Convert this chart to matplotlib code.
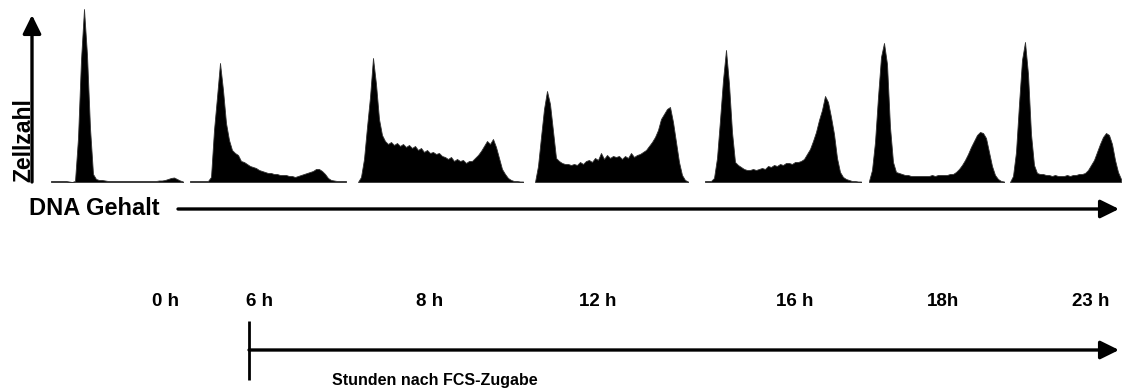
import numpy as np
import matplotlib.pyplot as plt

# DNA-Histogramme (Zellzahl je Kanal)
zeiten = ['0 h', '6 h', '8 h', '12 h', '16 h', '18h', '23 h']

hist_0h = [1, 1, 1, 1, 1, 1, 0.5, 0, 1, 44, 122, 173, 127, 54, 8, 3, 2, 2, 1.5, 1,
           1, 1, 1, 1, 1, 1, 1, 1, 1, 1, 1, 1, 1, 1, 1, 1, 1.5, 1.5, 2, 3,
           4, 4.5, 3, 1.5, 0.5]
hist_6h = [1, 1, 1, 1, 1, 1, 1, 5, 52, 85, 119, 92, 59, 42, 32, 29, 27, 21, 20, 18,
           16, 15, 14, 12, 11, 10, 9, 9, 8, 8, 7, 7, 7, 6, 6, 5, 6, 7, 8, 9,
           10, 11, 13, 13, 11, 8, 4, 2, 1.5, 1, 1, 1, 1]
hist_8h = [0, 5, 23, 55, 85, 124, 98, 63, 47, 41, 38, 40, 37, 39, 36, 38, 35, 37, 34, 36,
           32, 34, 30, 32, 29, 30, 28, 29, 26, 25, 23, 25, 21, 23, 21, 22, 19, 21, 21, 24,
           27, 31, 36, 41, 38, 43, 35, 24, 13, 8, 4, 2, 1, 1, 0.5, 0.5]
hist_12h = [0, 16, 45, 73, 91, 78, 51, 24, 21, 19, 18, 18, 17, 18, 17, 20, 18, 21, 22, 20,
            24, 22, 29, 23, 27, 24, 26, 25, 26, 23, 26, 24, 29, 25, 27, 28, 30, 32, 36, 40,
            45, 52, 63, 68, 73, 75, 60, 40, 20, 7, 2, 0.5]
hist_16h = [1, 1, 1, 4, 24, 62, 102, 132, 98, 50, 20, 17, 15, 13, 12, 12, 13, 12, 13, 14,
            13, 16, 15, 17, 16, 18, 17, 19, 19, 18, 20, 20, 21, 23, 28, 33, 41, 50, 62, 72,
            86, 80, 65, 48, 24, 10, 5, 3, 2, 1, 1, 0.5, 0.5]
hist_18h = [1, 12, 40, 85, 125, 139, 118, 55, 20, 10, 9, 8, 7, 7, 6, 6, 6, 6, 6, 6,
            6, 7, 6, 7, 7, 7, 7, 8, 8, 10, 13, 17, 22, 28, 35, 41, 47, 50, 49, 44,
            30, 16, 7, 3, 1, 0.5]
hist_23h = [0, 6, 30, 78, 122, 140, 108, 48, 17, 9, 8, 8, 7, 7, 6, 7, 6, 6, 6, 7,
            6, 7, 7, 8, 8, 9, 12, 17, 22, 30, 38, 45, 49, 47, 38, 22, 10, 3]

histogramme = [hist_0h, hist_6h, hist_8h, hist_12h, hist_16h, hist_18h, hist_23h]

# Layout in Pixeln (Bild 1123 x 392)
W, H = 1123, 392
panel_x0 = [51, 190, 358, 535, 705, 869, 1010]
px_pro_kanal = 3
basis_y = 182
label_x = [165, 260, 430, 598, 795, 943, 1091]

fig = plt.figure(figsize=(W / 100, H / 100), dpi=100)
fig.patch.set_facecolor('white')

for x0, h in zip(panel_x0, histogramme):
    n = len(h)
    ax = fig.add_axes([x0 / W, (H - basis_y) / H, px_pro_kanal * (n - 1) / W, basis_y / H])
    kanal = np.arange(n)
    ax.fill_between(kanal, h, 0, color='black', lw=0.6, edgecolor='#333333')
    ax.set_xlim(0, n - 1)
    ax.set_ylim(0, basis_y)
    ax.axis('off')

# Pfeile und Beschriftungen in Pixelkoordinaten
ov = fig.add_axes([0, 0, 1, 1], zorder=-1)
ov.set_xlim(0, W)
ov.set_ylim(H, 0)
ov.axis('off')

pfeil = dict(arrowstyle='-|>,head_length=0.75,head_width=0.37', lw=2.4, color='black',
             mutation_scale=15, shrinkA=0, shrinkB=0)

# y-Achse Zellzahl
ov.annotate('', xy=(32, 15), xytext=(32, 182), arrowprops=pfeil)
ov.text(24, 182, 'Zellzahl', rotation=90, ha='center', va='bottom',
        fontsize=16.5, fontweight='bold', family='Liberation Sans')

# x-Achse DNA Gehalt
ov.text(29, 208, 'DNA Gehalt', ha='left', va='center',
        fontsize=17, fontweight='bold', family='Liberation Sans')
ov.annotate('', xy=(1119, 209), xytext=(178, 209), arrowprops=pfeil)

# Zeitachse
for x, t in zip(label_x, zeiten):
    ov.text(x, 301, t, ha='center', va='center', fontsize=13.5, fontweight='bold',
            family='Liberation Sans')

ov.plot([249, 249], [321, 380], color='black', lw=2, solid_capstyle='butt')
ov.annotate('', xy=(1119, 350), xytext=(249, 350), arrowprops=pfeil)
ov.text(435, 381, 'Stunden nach FCS-Zugabe', ha='center', va='center',
        fontsize=11.5, fontweight='bold', family='Liberation Sans')

fig.savefig('out.png', dpi=100, facecolor='white')
